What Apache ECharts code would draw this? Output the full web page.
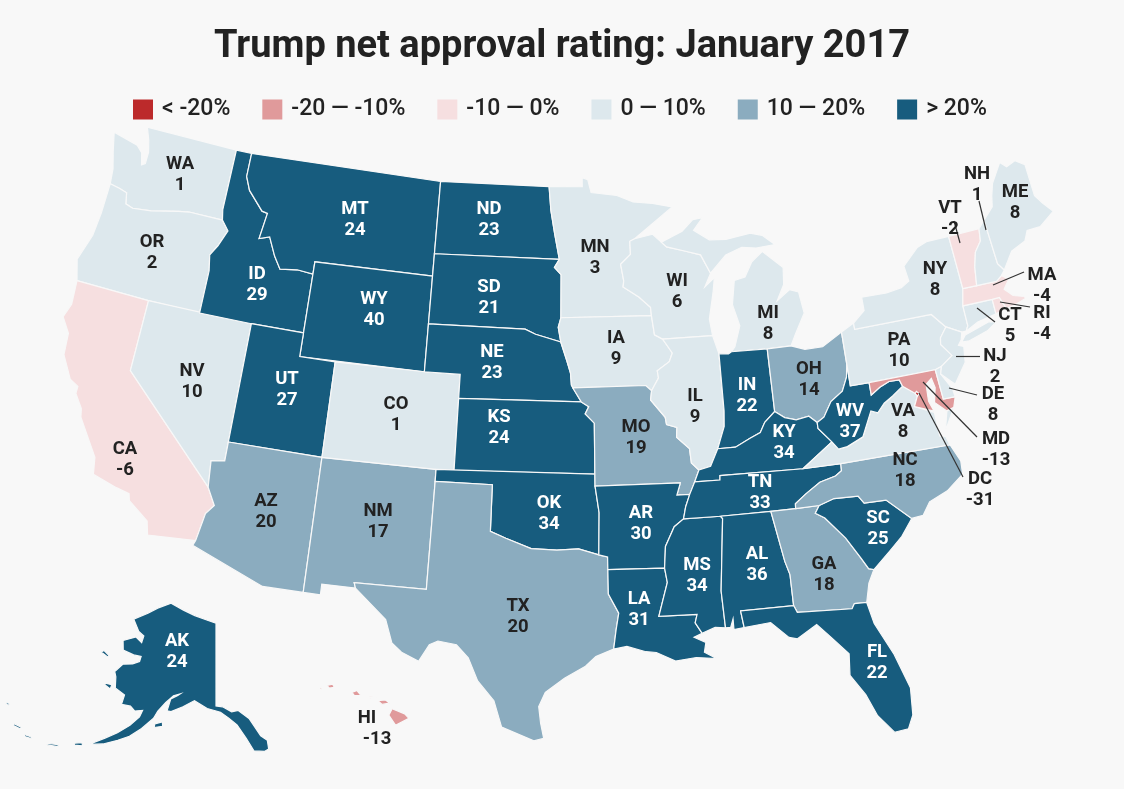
<!DOCTYPE html>
<html>
<head>
<meta charset="utf-8">
<style>
html, body { margin: 0; padding: 0; background: #f8f8f8; }
#main { width: 1124px; height: 789px; }
</style>
<script src="https://cdn.jsdelivr.net/npm/echarts@6/dist/echarts.min.js"></script>
</head>
<body>
<div id="main"></div>
<script>
// data
var stateCodes = ['WA','OR','CA','NV','ID','MT','WY','UT','AZ','NM','CO','ND','SD','NE','KS','OK','TX','MN','IA','MO','AR','LA','WI','IL','MS','MI','IN','OH','KY','TN','AL','GA','FL','SC','NC','VA','WV','PA','NY','MD','DE','NJ','CT','RI','MA','VT','NH','ME','DC','AK','HI'];
var stateValues = [1,2,-6,10,29,24,40,27,20,17,1,23,21,23,24,34,20,3,9,19,30,31,6,9,34,8,22,14,34,33,36,18,22,25,18,8,37,10,8,-13,8,2,5,-4,-4,-2,1,8,-31,24,-13];
var legendLabels = ['< -20%','-20 — -10%','-10 — 0%','0 — 10%','10 — 20%','> 20%'];
var legendColors = ['#bc2a2b','#e09a9b','#f6dfe0','#dde8ed','#8bacbf','#175c7e'];

// state outlines, lon lat pairs, "|" starts another island
var outlines = {
WA:'-124.7,48.4 -123.1,48.15 -122.7,47.9 -122.5,47.4 -122.3,47.5 -122.3,48 -122.5,48.5 -122.8,49 -117.03,49 -117.04,46.42 -116.92,45.99 -118.98,46 -119.6,45.92 -121.2,45.65 -122.3,45.55 -122.76,45.65 -122.9,46.1 -123.4,46.2 -124,46.27 -124.1,46.9 -124.4,47.6',
OR:'-124,46.27 -123.4,46.2 -122.9,46.1 -122.76,45.65 -122.3,45.55 -121.2,45.65 -119.6,45.92 -118.98,46 -116.92,45.99 -116.46,45.6 -116.85,44.9 -117.2,44.45 -117.03,43.8 -117.03,42 -120,42 -124.2,42 -124.55,42.85 -124.1,44 -124,45',
CA:'-124.2,42 -120,42 -120,39 -114.63,35 -114.14,34.3 -114.5,33.9 -114.72,32.72 -117.12,32.53 -117.3,33.1 -118.4,33.75 -118.5,34.03 -119.2,34.15 -120.5,34.45 -120.65,35.15 -121.9,36.6 -122,36.95 -122.5,37.5 -122.5,37.8 -123,38 -123.7,38.9 -123.8,39.8 -124.35,40.4 -124.1,41',
NV:'-120,42 -114.04,42 -114.05,37 -114.05,36.2 -114.75,36.1 -114.63,35 -120,39',
ID:'-117.03,49 -116.05,49 -116.05,48 -115.7,47.45 -114.7,46.7 -114.35,46.65 -114.55,45.55 -113.95,45.7 -113.45,44.95 -113,44.45 -112,44.55 -111.05,44.48 -111.05,42 -114.04,42 -117.03,42 -117.03,43.8 -117.2,44.45 -116.85,44.9 -116.46,45.6 -116.92,45.99 -117.04,46.42',
MT:'-116.05,49 -104.05,49 -104.05,45.94 -104.05,45 -111.05,45 -111.05,44.48 -112,44.55 -113,44.45 -113.45,44.95 -113.95,45.7 -114.55,45.55 -114.35,46.65 -114.7,46.7 -115.7,47.45 -116.05,48',
WY:'-111.05,45 -104.05,45 -104.05,43 -104.05,41 -111.05,41 -111.05,42 -111.05,44.48',
UT:'-114.04,42 -111.05,42 -111.05,41 -109.05,41 -109.05,37 -114.05,37',
CO:'-109.05,41 -104.05,41 -102.05,41 -102.05,40 -102.05,37 -103,37 -109.05,37',
AZ:'-114.05,37 -109.05,37 -109.05,31.33 -111.07,31.33 -114.82,32.5 -114.72,32.72 -114.5,33.9 -114.14,34.3 -114.63,35 -114.75,36.1 -114.05,36.2',
NM:'-109.05,37 -103,37 -103,36.5 -103.04,32 -106.62,32 -106.53,31.78 -108.2,31.78 -108.2,31.33 -109.05,31.33',
ND:'-104.05,49 -97.23,49 -97.1,48 -96.85,47 -96.56,45.94 -104.05,45.94',
SD:'-104.05,45.94 -96.56,45.94 -96.85,45.6 -96.45,45.3 -96.45,43.5 -96.6,43.1 -96.45,42.49 -97.9,42.8 -98.5,43 -104.05,43',
NE:'-104.05,43 -98.5,43 -97.9,42.8 -96.45,42.49 -96.1,41.7 -95.9,41.2 -95.85,40.7 -95.31,40 -102.05,40 -102.05,41 -104.05,41',
KS:'-102.05,40 -95.31,40 -94.9,39.8 -95.1,39.5 -94.61,39.11 -94.62,37 -102.05,37',
OK:'-103,37 -94.62,37 -94.62,36.5 -94.43,35.4 -94.48,33.64 -95.5,33.9 -96.6,33.85 -97.9,33.9 -99.2,34.3 -100,34.56 -100,36.5 -103,36.5',
TX:'-103,36.5 -100,36.5 -100,34.56 -99.2,34.3 -97.9,33.9 -96.6,33.85 -95.5,33.9 -94.48,33.64 -94.04,33.55 -94.04,33.02 -94.04,32 -93.55,31.2 -93.7,30.5 -93.84,29.7 -94.7,29.4 -95.2,29 -96.2,28.5 -97.1,27.9 -97.4,27.3 -97.3,26.6 -97.15,25.96 -97.6,25.85 -99.1,26.4 -99.5,27.5 -100.3,28.3 -100.8,29.25 -101.4,29.77 -102.3,29.88 -102.7,29.7 -103.15,28.98 -104,29.3 -104.5,29.65 -104.9,30.6 -106.53,31.78 -106.62,32 -103.04,32',
MN:'-97.23,49 -95.15,49 -95.15,49.38 -94.8,49.3 -94.6,48.75 -93,48.6 -92,48.3 -90.8,48.2 -89.6,48 -92,46.75 -92.3,46.65 -92.29,46.1 -92.9,45.7 -92.75,45 -92.8,44.75 -91.9,44.3 -91.25,43.85 -91.22,43.5 -96.45,43.5 -96.45,45.3 -96.85,45.6 -96.56,45.94 -96.85,47 -97.1,48',
IA:'-96.45,43.5 -91.22,43.5 -91.1,42.7 -90.65,42.5 -90.15,41.9 -90.35,41.55 -91.05,41.2 -91,40.9 -91.42,40.38 -91.73,40.61 -95.77,40.58 -95.85,40.7 -95.9,41.2 -96.1,41.7 -96.45,42.49 -96.6,43.1',
MO:'-95.77,40.58 -91.73,40.61 -91.42,40.38 -91.5,40 -90.75,39.25 -90.7,38.95 -90.15,38.8 -90.2,38.4 -89.55,37.9 -89.5,37.3 -89.13,36.98 -89.4,36.5 -89.7,36 -90.37,36 -90.15,36.5 -94.62,36.5 -94.62,37 -94.61,39.11 -95.1,39.5 -94.9,39.8 -95.31,40',
AR:'-94.62,36.5 -90.15,36.5 -90.37,36 -89.7,36 -89.95,35.5 -90.1,35 -90.6,34.7 -91.1,33.9 -91.2,33 -94.04,33.02 -94.04,33.55 -94.48,33.64 -94.43,35.4',
LA:'-94.04,33.02 -91.2,33 -91.1,32.4 -91.6,31 -89.73,31 -89.85,30.65 -89.55,30.2 -89.95,30.05 -89.4,29.8 -89.5,29.4 -88.95,29.1 -89.9,29.2 -90.9,29.1 -91.8,29.5 -92.3,29.55 -93.2,29.8 -93.84,29.7 -93.7,30.5 -93.55,31.2 -94.04,32',
MS:'-90.1,35 -88.2,35 -88.1,34.9 -88.47,31.9 -88.4,30.35 -88.9,30.4 -89.55,30.2 -89.85,30.65 -89.73,31 -91.6,31 -91.1,32.4 -91.2,33 -91.1,33.9 -90.6,34.7',
AL:'-88.2,35 -85.6,35 -85.18,32.87 -85,32.3 -85,31 -87.6,31 -87.5,30.3 -88,30.25 -88,30.7 -88.15,30.35 -88.4,30.35 -88.47,31.9 -88.1,34.9',
GA:'-85.6,35 -84.32,35 -83.1,35 -83.35,34.7 -82.9,34.45 -82,33.5 -81.4,32.6 -81.1,32.1 -80.85,32.03 -81.2,31.5 -81.45,30.72 -82.05,30.75 -82.2,30.55 -84.86,30.7 -85,31 -85,32.3 -85.18,32.87',
FL:'-87.6,31 -85,31 -84.86,30.7 -82.2,30.55 -82.05,30.75 -81.45,30.72 -81.25,29.8 -80.55,28.4 -80.05,26.9 -80.15,25.75 -80.45,25.2 -81.1,25.15 -81.75,25.95 -82.15,26.9 -82.75,27.8 -82.65,28.7 -83.4,29.5 -84,30.1 -85,29.6 -85.4,29.7 -86.2,30.4 -87.5,30.3',
SC:'-83.1,35 -82.3,35.2 -81.05,35.15 -80.8,34.82 -79.67,34.8 -78.55,33.86 -79.2,33.2 -79.9,32.7 -80.85,32.03 -81.1,32.1 -81.4,32.6 -82,33.5 -82.9,34.45 -83.35,34.7',
NC:'-84.32,35 -83.1,35 -82.3,35.2 -81.05,35.15 -80.8,34.82 -79.67,34.8 -78.55,33.86 -77.95,33.9 -77.5,34.4 -76.5,34.7 -75.55,35.25 -75.5,35.8 -75.87,36.55 -81.68,36.59 -81.7,36.3 -82.05,36.12 -82.9,35.95 -83.7,35.55 -84.3,35.2',
TN:'-89.4,36.5 -88.07,36.5 -88.05,36.68 -83.68,36.6 -81.68,36.59 -81.7,36.3 -82.05,36.12 -82.9,35.95 -83.7,35.55 -84.3,35.2 -84.32,35 -85.6,35 -88.2,35 -90.1,35 -89.95,35.5 -89.7,36',
KY:'-89.4,36.5 -89.13,36.98 -88.5,37.1 -88.05,37.8 -87.1,37.8 -86.3,38.1 -85.7,38.3 -85.4,38.7 -84.8,39.1 -84.3,38.8 -83.7,38.65 -83,38.73 -82.6,38.42 -82.6,38.17 -81.97,37.54 -83.68,36.6 -88.05,36.68 -88.07,36.5',
IL:'-90.65,42.5 -87.8,42.5 -87.53,41.72 -87.53,39.35 -87.6,38.7 -88.05,37.8 -88.5,37.1 -89.13,36.98 -89.5,37.3 -89.55,37.9 -90.2,38.4 -90.15,38.8 -90.7,38.95 -90.75,39.25 -91.5,40 -91.42,40.38 -91,40.9 -91.05,41.2 -90.35,41.55 -90.15,41.9',
IN:'-87.53,41.72 -87,41.68 -86.82,41.76 -84.8,41.72 -84.8,39.1 -85.4,38.7 -85.7,38.3 -86.3,38.1 -87.1,37.8 -88.05,37.8 -87.6,38.7 -87.53,39.35',
OH:'-84.8,41.72 -83.45,41.72 -82.7,41.5 -81.7,41.5 -80.52,41.98 -80.52,40.64 -80.65,40.1 -81,39.55 -81.7,39.2 -82.2,38.6 -82.6,38.42 -83,38.73 -83.7,38.65 -84.3,38.8 -84.8,39.1',
WV:'-80.52,40.64 -80.52,39.72 -79.48,39.72 -79.48,39.2 -78.95,39.45 -78.4,39.62 -77.83,39.6 -77.72,39.32 -78.35,39 -78.87,38.77 -79.3,38.42 -79.65,38.55 -80.3,37.55 -81.2,37.25 -81.68,37.2 -81.97,37.54 -82.6,38.17 -82.6,38.42 -82.2,38.6 -81.7,39.2 -81,39.55 -80.65,40.1',
VA:'-83.68,36.6 -81.97,37.54 -81.68,37.2 -81.2,37.25 -80.3,37.55 -79.65,38.55 -79.3,38.42 -78.87,38.77 -78.35,39 -77.72,39.32 -77.12,38.93 -77.04,38.8 -77.3,38.4 -76.32,38 -76.3,37 -76,36.93 -75.87,36.55 -81.68,36.59|-75.95,37.15 -75.65,37.95 -75.25,38.03',
MD:'-79.48,39.72 -75.79,39.72 -75.7,38.46 -75.05,38.45 -75.25,38.03 -75.65,37.95 -76.2,38.4 -76,39 -76.1,39.4 -76.45,39.2 -76.5,38.5 -76.32,38.05 -77.3,38.4 -77.04,38.8 -77.12,38.93 -77.72,39.32 -77.83,39.6 -78.4,39.62 -78.95,39.45 -79.48,39.2',
DC:'-77.12,38.93 -77.04,39 -76.91,38.89 -77.04,38.8',
DE:'-75.79,39.72 -75.42,39.8 -75.55,39.5 -75.1,38.8 -75.05,38.45 -75.7,38.46',
PA:'-80.52,41.98 -79.76,42.27 -79.76,42 -75.35,42 -74.7,41.36 -75.13,40.97 -75.2,40.7 -74.72,40.15 -75.42,39.8 -75.79,39.72 -79.48,39.72 -80.52,39.72 -80.52,40.64',
NJ:'-74.7,41.36 -73.9,41 -74.03,40.7 -74.25,40.5 -73.98,40.4 -74.1,39.75 -74.9,38.95 -75.55,39.5 -75.42,39.8 -74.72,40.15 -75.2,40.7 -75.13,40.97',
NY:'-79.76,42.27 -79.76,42 -75.35,42 -74.7,41.36 -73.9,41 -73.65,41 -73.49,41.2 -73.5,42.05 -73.27,42.75 -73.35,45.01 -74.7,45 -75.3,44.85 -76.3,44.2 -76.2,43.55 -76.7,43.35 -77.6,43.25 -79.05,43.27 -79.05,42.7|-74.03,40.6 -73.75,40.85 -72.3,41.15 -71.9,41.07 -72.5,40.8 -73.6,40.58',
CT:'-73.5,42.05 -71.8,42.02 -71.8,41.4 -72.9,41.25 -73.65,41 -73.49,41.2',
RI:'-71.8,42.02 -71.38,42.02 -71.15,41.5 -71.8,41.4',
MA:'-73.5,42.05 -73.27,42.75 -72.46,42.73 -71.3,42.7 -70.95,42.88 -70.6,42.65 -71,42.3 -70.6,41.95 -70.05,41.8 -70.2,42.07 -69.95,41.7 -70.65,41.55 -71.15,41.5 -71.38,42.02 -71.8,42.02',
VT:'-73.35,45.01 -71.5,45.01 -71.6,44.5 -72.05,44.1 -72.3,43.5 -72.46,42.73 -73.27,42.75',
NH:'-71.5,45.01 -71.08,45.3 -70.98,43.4 -70.7,43.07 -70.95,42.88 -71.3,42.7 -72.46,42.73 -72.3,43.5 -72.05,44.1 -71.6,44.5',
ME:'-71.08,45.3 -70.4,45.75 -70.25,46.2 -70,46.7 -69.23,47.46 -68.9,47.2 -68.3,47.35 -67.79,47.07 -67.79,45.7 -67.45,45.3 -67,44.85 -68,44.4 -68.8,44.4 -69.1,44 -70,43.75 -70.7,43.07 -70.98,43.4',
MI:'-86.82,41.76 -84.8,41.72 -83.45,41.72 -83.1,42.2 -82.45,43 -82.6,43.9 -83.1,44.05 -83.9,43.65 -83.4,44.3 -83.3,45 -84.4,45.78 -85.1,45.4 -85.6,44.8 -86.25,44.7 -86.5,43.7 -86.2,42.8 -86.6,41.95|-90.4,46.55 -89.1,46.95 -88.4,47.4 -87.8,47.45 -88.4,46.95 -87.5,46.5 -86.5,46.45 -85,46.6 -84.3,46.45 -83.6,46 -84.75,45.95 -85.6,46.05 -86.6,45.8 -87.6,45.1 -88.1,45.9 -89.1,46.13 -90.1,46.34',
WI:'-92,46.75 -90.9,46.9 -90.4,46.55 -90.1,46.34 -89.1,46.13 -88.1,45.9 -87.6,45.1 -88,44.55 -87.4,44.9 -87.55,44.3 -87.9,43.2 -87.8,42.5 -90.65,42.5 -91.1,42.7 -91.22,43.5 -91.25,43.85 -91.9,44.3 -92.8,44.75 -92.75,45 -92.9,45.7 -92.29,46.1 -92.3,46.65',
AK:'-141,69.65 -141,60.3 -139.5,60.2 -137.5,59.6 -136,59.7 -133.8,58.7 -131.8,56.6 -130.6,56 -130.6,55 -131.5,54.8 -133.5,55 -134.8,56.5 -136.5,58.1 -138.2,58.9 -140,59.6 -143,60 -146,60.8 -148.5,60 -151,59.3 -151.9,59.3 -151.5,60.7 -150,61.2 -149.5,61.4 -151,61.1 -152.5,60.2 -153.9,59.1 -154.5,58.2 -156.5,56.8 -158.5,55.6 -160.5,54.8 -163,53.9 -165.5,53.3 -163,54.6 -161,55.6 -159,56.8 -157.5,58 -157.2,58.8 -158.8,58.5 -160,58.9 -162,58.8 -162,59.9 -164.5,60.3 -165.3,61.5 -166,62 -164.8,63.1 -162.5,63.5 -161,64 -161,64.6 -163,64.5 -166,64.6 -167,65.6 -164,66.5 -162,66.1 -162,66.9 -163.8,67.2 -166.5,68.3 -163,69.5 -160.5,70.4 -156.6,71.35 -152,70.85 -148,70.4 -144,70|-154,57.2 -152.3,57.5 -152.5,58 -154,57.6|-171,63.4 -169,63.2 -168.8,63.4 -170.5,63.7|-167,60.2 -165.5,60 -165.5,60.5 -167,60.4|-168,52.6 -166.5,52.9 -166.8,53.2 -168,52.85|-172.5,51.3 -170.5,51.7 -170.7,51.9 -172.5,51.5|-176.8,50.9 -175.5,51.1 -175.6,51.25 -176.8,51.1|-179.5,51.3 -178,51.4 -178.1,51.6 -179.5,51.5|-182.8,52.8 -182.2,52.9 -182.3,53.1 -182.8,53',
HI:'-156.05,19.75 -155.85,20.25 -155.1,19.85 -154.85,19.5 -155.65,18.95|-156.7,20.9 -156.25,20.95 -156,20.7 -156.45,20.6|-158.25,21.55 -157.95,21.7 -157.7,21.3 -158.1,21.3|-159.75,22.1 -159.4,22.2 -159.3,21.95 -159.6,21.9|-160.2,21.85 -160.05,22 -160.05,21.8|-157.2,21.2 -156.75,21.17 -157.2,21.08'
};

// centre of each state's two line label, in page pixels
var labelSpots = {
WA:[180,174],OR:[152,252],CA:[125,459],NV:[192,381],ID:[257,284],MT:[355,219],WY:[374,309],UT:[287,389],AZ:[266,511],NM:[378,521],CO:[396,414],
ND:[489,219],SD:[489,297],NE:[492,362],KS:[499,427],OK:[549,513],TX:[518,616],MN:[595,257],IA:[616,348],MO:[636,437],AR:[641,523],LA:[639,609],
WI:[677,291],IL:[695,406],MS:[697,575],MI:[768,323],IN:[747,395],OH:[809,379],KY:[784,442],TN:[760,492],AL:[757,564],GA:[824,574],FL:[877,662],
SC:[878,528],NC:[905,470],VA:[903,421],WV:[850,421],PA:[899,350],NY:[935,279],ME:[1015,202],NH:[977,184],VT:[950,218],MA:[1042,285],RI:[1042,323],
CT:[1010,325],NJ:[995,366],DE:[993,404],MD:[996,449],DC:[980,489],AK:[177,651],HI:[372,728]
};

// leader lines for the small eastern states, in page pixels
var leaderSpots = [
[[979,201],[986,230]],[[954,221],[960,243]],[[1024,272],[993,285]],[[1030,307],[1000,302]],[[995,322],[977,308]],
[[980,356],[956,356]],[[977,395],[949,388]],[[977,437],[923,382]],[[963,477],[919,393]]
];

// albers helpers, output is page pixels so geo can be laid out 1:1
function makeAlbers(p1, p2, lon0, lat0, kx, ky, x0, y0) {
    var rad = Math.PI / 180;
    var n = (Math.sin(p1 * rad) + Math.sin(p2 * rad)) / 2;
    var c = Math.pow(Math.cos(p1 * rad), 2) + 2 * n * Math.sin(p1 * rad);
    var rho0 = Math.sqrt(c - 2 * n * Math.sin(lat0 * rad)) / n;
    return {
        project: function (p) {
            var rho = Math.sqrt(c - 2 * n * Math.sin(p[1] * rad)) / n;
            var a = n * (p[0] - lon0) * rad;
            return [x0 + kx * rho * Math.sin(a), y0 - ky * (rho0 - rho * Math.cos(a))];
        },
        unproject: function (q) {
            var x = (q[0] - x0) / kx, y = rho0 + (q[1] - y0) / ky;
            var rho = Math.sqrt(x * x + y * y);
            var a = Math.atan2(x, y);
            return [lon0 + a / n / rad, Math.asin((c - Math.pow(rho * n, 2)) / (2 * n)) / rad];
        }
    };
}
var lower48 = makeAlbers(29.5, 45.5, -96, 37.5, 1374, 1368, 568.7, 462.2);
var alaska = makeAlbers(55, 65, -141, 60.3, 508, 508, 216, 706);

function project(p) {
    if (p[1] > 50 && p[0] < -129) return alaska.project(p);
    if (p[1] < 25 && p[0] < -150) return [398 + 16.75 * (p[0] + 155.5), 717 - 12.6 * (p[1] - 19.6)];
    return lower48.project(p);
}

function parseRing(s) {
    var ring = s.split(' ').map(function (t) { return t.split(',').map(Number); });
    ring.push(ring[0]);
    return ring;
}

var minX = 1e9, minY = 1e9, maxX = -1e9, maxY = -1e9;
var features = stateCodes.map(function (code) {
    var polys = outlines[code].split('|').map(function (s) {
        var ring = parseRing(s);
        ring.forEach(function (p) {
            var q = project(p);
            minX = Math.min(minX, q[0]); maxX = Math.max(maxX, q[0]);
            minY = Math.min(minY, q[1]); maxY = Math.max(maxY, q[1]);
        });
        return [ring];
    });
    return {
        type: 'Feature',
        properties: { name: code },
        geometry: { type: 'MultiPolygon', coordinates: polys }
    };
});
echarts.registerMap('usa', { type: 'FeatureCollection', features: features });

var pieces = [
    { lt: -20 }, { gte: -20, lt: -10 }, { gte: -10, lt: 0 },
    { gte: 0, lte: 10 }, { gt: 10, lte: 20 }, { gt: 20 }
].map(function (p, i) {
    p.label = legendLabels[i];
    p.color = legendColors[i];
    return p;
});

var myChart = echarts.init(document.getElementById('main'));

var option = {
    backgroundColor: '#f8f8f8',
    animation: false,
    title: {
        text: 'Trump net approval rating: January 2017',
        left: 'center',
        top: 23,
        textStyle: { fontFamily: 'Roboto', fontSize: 38, fontWeight: 'bold', color: '#222' }
    },
    visualMap: {
        type: 'piecewise',
        seriesIndex: 0,
        orient: 'horizontal',
        left: 118,
        top: 83,
        itemWidth: 20,
        itemHeight: 20,
        itemGap: 32,
        textGap: 9,
        itemSymbol: 'rect',
        selectedMode: false,
        hoverLink: false,
        pieces: pieces,
        textStyle: { fontFamily: 'Roboto', fontSize: 23, fontWeight: 500, color: '#222' }
    },
    geo: {
        map: 'usa',
        roam: false,
        silent: true,
        projection: {
            project: project,
            unproject: function (q) { return lower48.unproject(q); }
        },
        left: minX,
        top: minY,
        width: maxX - minX,
        height: maxY - minY,
        label: { show: false },
        itemStyle: { borderColor: '#f8f8f8', borderWidth: 1.2, areaColor: '#dde8ed' },
        emphasis: { disabled: true }
    },
    series: [
        {
            type: 'map',
            geoIndex: 0,
            silent: true,
            data: stateCodes.map(function (c, i) { return { name: c, value: stateValues[i] }; })
        },
        {
            type: 'lines',
            coordinateSystem: 'geo',
            silent: true,
            symbol: 'none',
            lineStyle: { color: '#333', width: 1.2, opacity: 1, curveness: 0 },
            data: leaderSpots.map(function (l) {
                return { coords: [lower48.unproject(l[0]), lower48.unproject(l[1])] };
            }),
            z: 3
        },
        {
            type: 'scatter',
            coordinateSystem: 'geo',
            silent: true,
            symbolSize: 0,
            itemStyle: { opacity: 1 },
            z: 4,
            label: {
                show: true,
                position: 'inside',
                offset: [0, 1],
                fontFamily: 'Roboto',
                fontSize: 18.5,
                fontWeight: 'bold',
                lineHeight: 21,
                align: 'center',
                verticalAlign: 'middle',
                formatter: function (p) { return '{n|' + p.name + '}\n{v|' + p.value[2] + '}'; },
                rich: { n: {}, v: {} }
            },
            data: stateCodes.map(function (c, i) {
                var ll = lower48.unproject(labelSpots[c]);
                var item = {
                    name: c,
                    value: [ll[0], ll[1], stateValues[i]],
                    label: { color: stateValues[i] > 20 ? '#fff' : '#222' }
                };
                // HI sits left of its number in the original
                if (c === 'HI') item.label.rich = { n: { padding: [0, 10, 0, 0] }, v: { padding: [0, 0, 0, 10] } };
                return item;
            })
        }
    ]
};

myChart.setOption(option);
</script>
</body>
</html>
